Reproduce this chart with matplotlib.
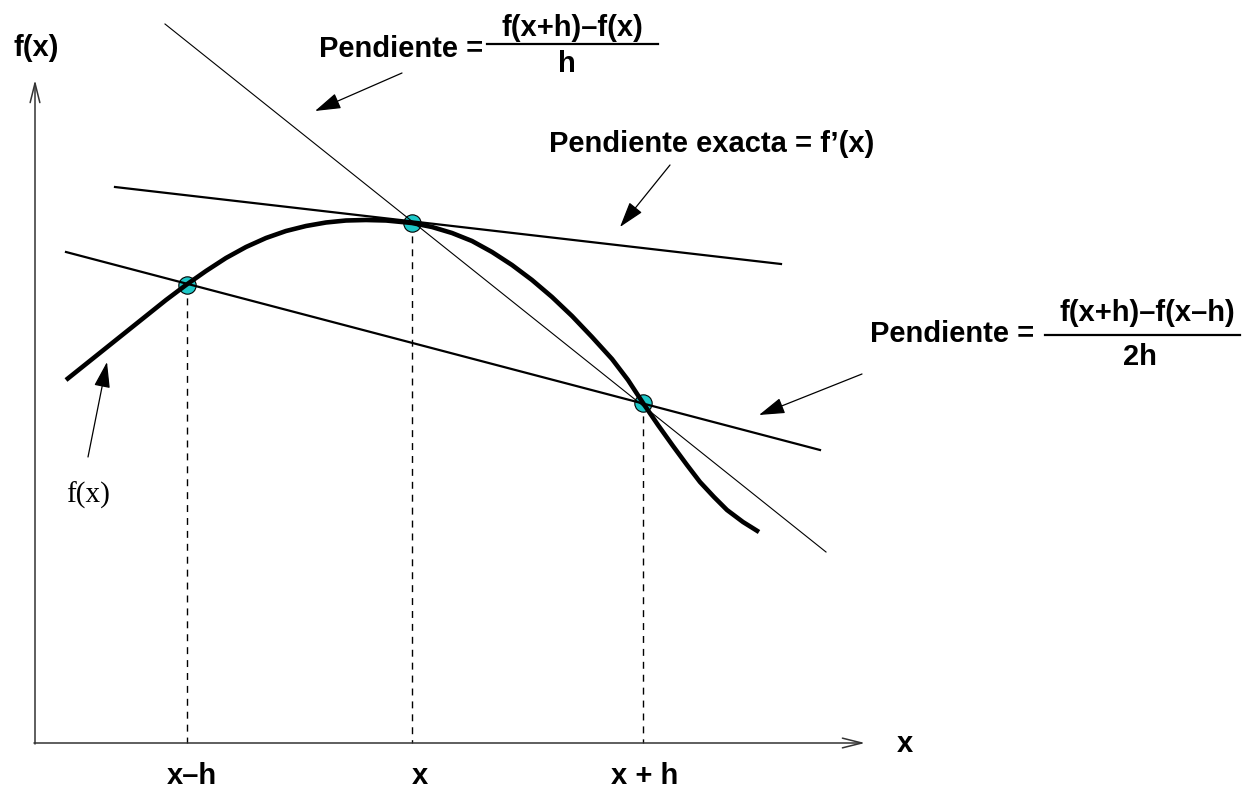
import matplotlib
matplotlib.use("Agg")
import matplotlib.pyplot as plt

# curve f(x) (pixel-like units, y grows downwards)
curve_x = [66, 86, 106, 126, 146, 166, 186, 206, 226, 246, 266, 286, 306, 326, 346, 366, 386,
           412, 432, 452, 472, 492, 512, 532, 552, 572, 592, 612, 628, 643, 658, 673, 687, 700,
           714, 727, 743, 759]
curve_y = [380, 364, 348, 332, 316, 300, 285, 271, 258, 247, 238, 231, 226, 222.5, 220.5, 220, 220.5,
           223, 227, 233, 241, 252, 265, 280, 297, 316, 337, 359, 380, 403, 425, 446, 465, 482,
           497, 510, 522, 532]

# sample points x-h, x, x+h
pts_x = [187, 412, 643]
pts_y = [285, 223, 403]
pt_labels = ["x\u2013h", "x", "x + h"]
label_x = [192, 420, 645]

# straight lines: (x0, y0, x1, y1)
secant = [165, 24, 826, 552]
tangent = [115, 187, 781, 264]
central = [66, 252, 820, 450]

axis_origin = (35, 743)
axis_end_x = 865
axis_end_y = 80

BOLD = dict(family="Liberation Sans", fontweight="bold", fontsize=21)

fig = plt.figure(figsize=(12.5, 7.89), dpi=100)
ax = fig.add_axes([0, 0, 1, 1])
ax.set_xlim(0, 1250)
ax.set_ylim(789, 0)
ax.axis("off")

# axes with open arrowheads
ax.annotate("", xy=(axis_end_x, axis_origin[1]), xytext=(axis_origin[0] - 1, axis_origin[1]),
            arrowprops=dict(arrowstyle="->,head_length=1.4,head_width=0.35", color="#333333",
                            lw=1.1, mutation_scale=10, shrinkA=0, shrinkB=0))
ax.annotate("", xy=(axis_origin[0], axis_end_y), xytext=(axis_origin[0], axis_origin[1] + 1),
            arrowprops=dict(arrowstyle="->,head_length=1.4,head_width=0.35", color="#333333",
                            lw=1.1, mutation_scale=10, shrinkA=0, shrinkB=0))

# dashed drop lines
for px, py in zip(pts_x, pts_y):
    ax.plot([px, px], [py, axis_origin[1]], color="black", lw=1, ls=(0, (5, 4.3)), zorder=2)

# markers below lines
ax.plot(pts_x, pts_y, "o", ms=12.5, mfc="#1ec8c8", mec="black", mew=0.8, zorder=3)

ax.plot(secant[0::2], secant[1::2], color="black", lw=0.8, zorder=4)
ax.plot(tangent[0::2], tangent[1::2], color="black", lw=1.6, zorder=4)
ax.plot(central[0::2], central[1::2], color="black", lw=1.6, zorder=4)
ax.plot(curve_x, curve_y, color="black", lw=3.3, solid_capstyle="butt",
        solid_joinstyle="round", zorder=5)

# labels
ax.text(36, 48, "f(x)", ha="center", va="center", **BOLD)
ax.text(905, 744, "x", ha="center", va="center", **BOLD)
for lx, lab in zip(label_x, pt_labels):
    ax.text(lx, 776, lab, ha="center", va="center", **BOLD)

ax.text(88, 495, "f(x)", ha="center", va="center", family="Liberation Serif", fontsize=21)

# slope formulas
ax.text(483, 49, "Pendiente =", ha="right", va="center", **BOLD)
ax.text(572, 28, "f(x+h)\u2013f(x)", ha="center", va="center", **BOLD)
ax.plot([487, 658], [44, 44], color="black", lw=1.6)
ax.text(567, 64, "h", ha="center", va="center", **BOLD)

ax.text(712, 144, "Pendiente exacta = f\u2019(x)", ha="center", va="center", **BOLD)

ax.text(1034, 334, "Pendiente =", ha="right", va="center", **BOLD)
ax.text(1147, 313, "f(x+h)\u2013f(x\u2013h)", ha="center", va="center", **BOLD)
ax.plot([1045, 1240], [335, 335], color="black", lw=1.6)
ax.text(1140, 357, "2h", ha="center", va="center", **BOLD)

# pointer arrows
arrow_tails = [(402, 73), (670, 165), (862, 374), (88, 457)]
arrow_heads = [(315, 111), (620, 227), (759, 415), (107, 362)]
for (tx, ty), (hx, hy) in zip(arrow_tails, arrow_heads):
    ax.annotate("", xy=(hx, hy), xytext=(tx, ty),
                arrowprops=dict(arrowstyle="-|>,head_length=0.8,head_width=0.25", color="black",
                                lw=0.9, mutation_scale=20, shrinkA=0, shrinkB=0))

fig.savefig("out.png", dpi=100)
